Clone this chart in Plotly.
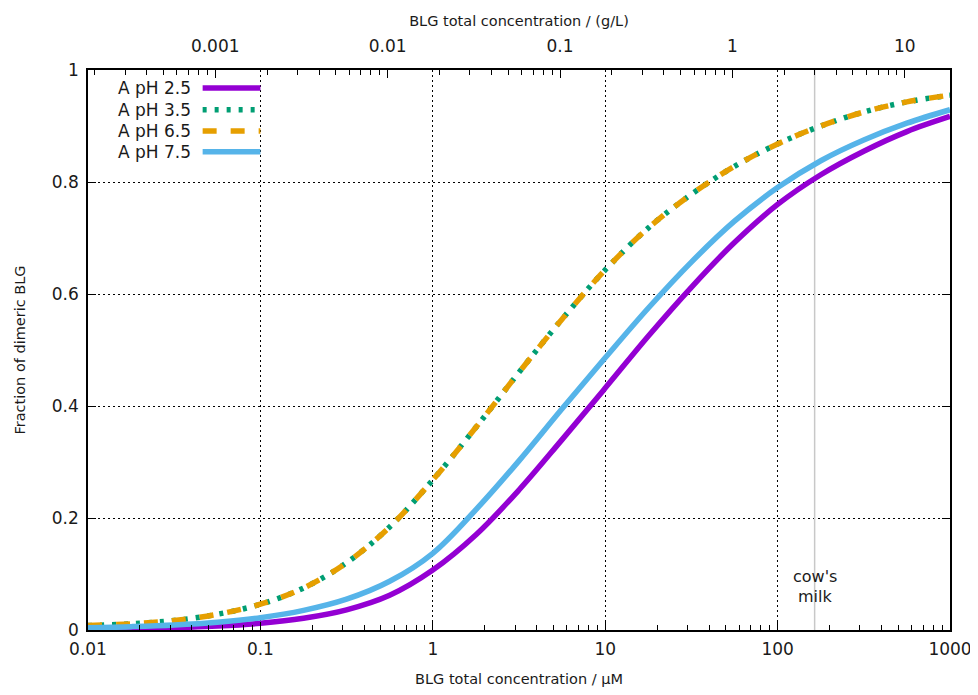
import numpy as np
import plotly.graph_objects as go

# ---- data ----
conc_uM = [0.01, 0.0178, 0.0316, 0.0562, 0.1, 0.178, 0.316, 0.562, 1.0, 1.78, 3.16, 5.62,
           10.0, 17.8, 31.6, 56.2, 100.0, 178.0, 316.0, 562.0, 1000.0]

ph25 = [0.001, 0.002, 0.004, 0.007, 0.012, 0.021, 0.036, 0.062, 0.107, 0.170, 0.250, 0.340,
        0.432, 0.525, 0.612, 0.692, 0.760, 0.813, 0.855, 0.890, 0.917]
ph35 = [0.008, 0.011, 0.017, 0.028, 0.046, 0.075, 0.120, 0.184, 0.268, 0.362, 0.460, 0.555,
        0.643, 0.718, 0.778, 0.828, 0.868, 0.900, 0.925, 0.943, 0.955]
ph65 = [0.008, 0.011, 0.017, 0.028, 0.046, 0.075, 0.120, 0.184, 0.268, 0.362, 0.460, 0.555,
        0.643, 0.718, 0.778, 0.828, 0.868, 0.900, 0.925, 0.943, 0.955]
ph75 = [0.004, 0.006, 0.009, 0.014, 0.022, 0.035, 0.055, 0.087, 0.137, 0.215, 0.302, 0.395,
        0.486, 0.575, 0.657, 0.730, 0.790, 0.838, 0.875, 0.905, 0.929]

series_names = ["A pH 2.5", "A pH 3.5", "A pH 6.5", "A pH 7.5"]
series_colors = ["#9400D3", "#009E73", "#E69F00", "#56B4E9"]
series_dash = ["solid", "4px,8px", "14px,14px", "solid"]
series_values = [ph25, ph35, ph65, ph75]

bottom_ticks = [0.01, 0.1, 1, 10, 100, 1000]
bottom_ticktext = ["0.01", "0.1", "1", "10", "100", "1000"]
top_ticks_gL = [0.001, 0.01, 0.1, 1, 10]
top_ticktext = ["0.001", "0.01", "0.1", "1", "10"]
uM_per_gL = 54.7          # BLG: 1 g/L ~ 54.7 uM
cow_milk_uM = 164.0

y_ticks = [0, 0.2, 0.4, 0.6, 0.8, 1]
y_ticktext = ["0", "0.2", "0.4", "0.6", "0.8", "1"]

FONT = "DejaVu Sans"
TXT = "#1a1a1a"
TICK_SIZE = 17
TITLE_SIZE = 14.5


def minor_vals(lo_dec, hi_dec):
    out = []
    for d in range(lo_dec, hi_dec + 1):
        for k in range(2, 10):
            out.append(k * 10.0 ** d)
    return out


fig = go.Figure()

# cow's milk marker line
fig.add_trace(go.Scatter(x=[cow_milk_uM, cow_milk_uM], y=[0, 1], mode="lines",
                         line=dict(color="#c8c8c8", width=1.5), showlegend=False,
                         hoverinfo="skip"))

for name, vals, col, dash in zip(series_names, series_values, series_colors, series_dash):
    fig.add_trace(go.Scatter(x=conc_uM, y=vals, mode="lines", name=name,
                             line=dict(color=col, width=5.5, dash=dash, shape="spline",
                                       smoothing=1.0),
                             showlegend=False))

# dummy trace on top axis so it renders
fig.add_trace(go.Scatter(x=[top_ticks_gL[0]], y=[None], xaxis="x2", showlegend=False,
                         hoverinfo="skip"))

lo, hi = -2, 3
off = np.log10(uM_per_gL)

grid_dash = "2px,3px"
fig.update_layout(
    width=970, height=687,
    margin=dict(l=80, r=28, t=62, b=65, autoexpand=False),
    paper_bgcolor="white", plot_bgcolor="white",
    font=dict(family=FONT, size=15, color=TXT),
    xaxis=dict(type="log", range=[lo, hi], tickvals=bottom_ticks, ticktext=bottom_ticktext,
               ticks="inside", ticklen=8, tickwidth=1, tickcolor="black",
               showline=True, linecolor="black", linewidth=1.5, mirror=False,
               showgrid=True, gridcolor="black", gridwidth=1, griddash=grid_dash,
               zeroline=False, automargin=False, ticklabelstandoff=3,
               minor=dict(ticks="inside", ticklen=5, tickcolor="black",
                          tickvals=minor_vals(-2, 2), showgrid=False),
               title=dict(text="BLG total concentration / µM", font=dict(size=TITLE_SIZE),
                          standoff=16),
               tickfont=dict(size=TICK_SIZE)),
    xaxis2=dict(type="log", range=[lo - off, hi - off], overlaying="x", side="top",
                tickvals=top_ticks_gL, ticktext=top_ticktext,
                ticks="inside", ticklen=8, tickcolor="black",
                showline=True, linecolor="black", linewidth=1.5,
                showgrid=False, zeroline=False, automargin=False, ticklabelstandoff=9,
                minor=dict(ticks="inside", ticklen=5, tickcolor="black",
                           tickvals=minor_vals(-4, 1), showgrid=False),
                title=dict(text="BLG total concentration / (g/L)", font=dict(size=TITLE_SIZE),
                           standoff=6),
                tickfont=dict(size=TICK_SIZE)),
    yaxis=dict(range=[0, 1], tickvals=y_ticks, ticktext=y_ticktext,
               ticks="inside", ticklen=8, tickcolor="black",
               showline=True, linecolor="black", linewidth=1.5, mirror="ticks",
               showgrid=True, gridcolor="black", gridwidth=1, griddash=grid_dash,
               zeroline=False, automargin=False, ticklabelstandoff=4,
               title=dict(text="Fraction of dimeric BLG", font=dict(size=TITLE_SIZE),
                          standoff=23),
               tickfont=dict(size=TICK_SIZE)),
    showlegend=False,
)

# cow's milk label
fig.add_annotation(x=np.log10(cow_milk_uM), y=0.096, xref="x", yref="y",
                   text="cow's", showarrow=False, yanchor="middle",
                   font=dict(size=16, color=TXT, family=FONT))
fig.add_annotation(x=np.log10(cow_milk_uM), y=0.059, xref="x", yref="y",
                   text="milk", showarrow=False, yanchor="middle",
                   font=dict(size=16, color=TXT, family=FONT))

# key (gnuplot-style: text then sample)
row_y = [0.968, 0.929, 0.891, 0.854]
for name, col, dash, ry in zip(series_names, series_colors, series_dash, row_y):
    fig.add_annotation(x=0.122, y=ry, xref="paper", yref="paper", text=name,
                       showarrow=False, xanchor="right", yanchor="middle",
                       font=dict(size=TICK_SIZE, color=TXT, family=FONT))
    fig.add_shape(type="line", xref="paper", yref="paper", x0=0.133, x1=0.2, y0=ry, y1=ry,
                  line=dict(color=col, width=5.5, dash=dash))

fig.write_html("out.html")
